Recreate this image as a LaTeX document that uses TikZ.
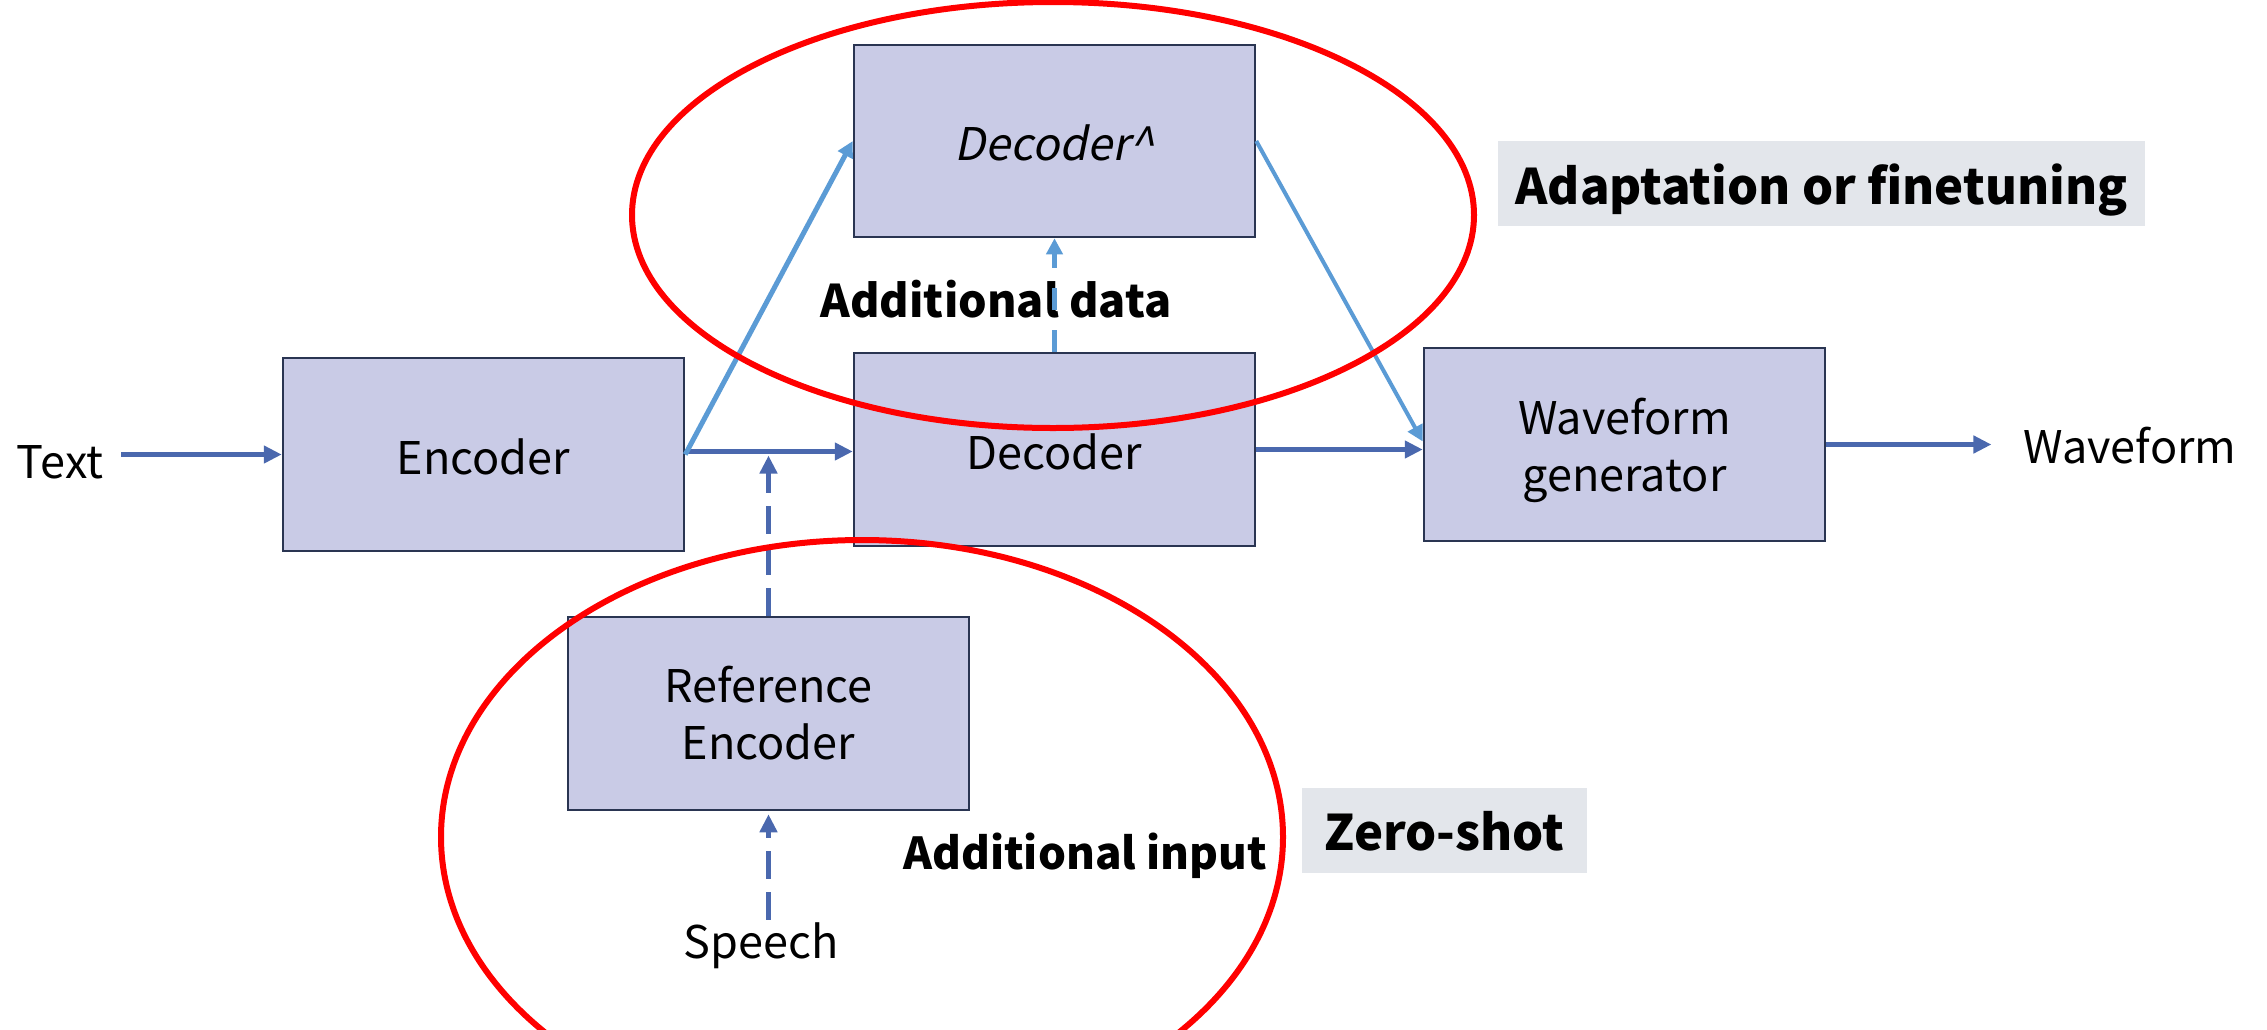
\documentclass[tikz,border=0pt]{standalone}
\usepackage{fontspec}
\setmainfont{Noto Sans CJK SC}
\newfontfamily\slfont[FakeSlant=0.2]{Noto Sans CJK SC}
\usetikzlibrary{arrows.meta,shapes.geometric}
\definecolor{boxfill}{HTML}{C9CBE6}
\definecolor{boxdraw}{HTML}{2A3552}
\definecolor{darkblue}{HTML}{4A68AE}
\definecolor{lightblue}{HTML}{5B9BD5}
\definecolor{tagfill}{HTML}{E3E6EB}
\begin{document}
\begin{tikzpicture}[x=1pt,y=-1pt,
  box/.style={draw=boxdraw, line width=2.5pt, fill=boxfill, minimum width=401pt,
    minimum height=193pt, inner sep=0pt, align=center,
    font=\fontsize{45}{57}\selectfont},
  onebox/.style={box, text height=39pt, text depth=0pt},
  lbl/.style={font=\fontsize{45}{54}\selectfont, inner sep=0pt},
  blbl/.style={font=\fontsize{45}{54}\selectfont\bfseries, inner sep=0pt},
  tag/.style={fill=tagfill, inner sep=0pt, font=\fontsize{49}{60}\selectfont\bfseries},
  darr/.style={draw=darkblue, line width=5pt, -{Triangle[length=18pt,width=17pt]}},
  larr/.style={draw=lightblue, line width=5pt, -{Triangle[length=16pt,width=16pt]}},
  dsh/.style={dash pattern=on 28pt off 13pt},
  ring/.style={draw=red, line width=6pt, ellipse, inner sep=0pt}
]
\useasboundingbox (0,0) rectangle (2267,1029);
\clip (0,0) rectangle (2267,1029);

% boxes
\node[onebox] (enc) at (483.5,454.5) {Encoder};
\node[onebox] (dec) at (1054.5,449.5) {Decoder};
\node[onebox, minimum height=192pt, text height=38pt] (dech) at (1054.5,141) {\slfont Decoder\textasciicircum};
\node[box, label={[font=\fontsize{45}{57}\selectfont, align=center, inner sep=0pt, yshift=-6pt]center:Waveform\\generator}] (wav) at (1624.5,444.5) {};
\node[box] (ref) at (768.5,713.5) {Reference\\Encoder};

% free labels
\node[lbl, anchor=base] (txt) at (60,478) {Text};
\node[lbl, anchor=base] (out) at (2130,463) {Waveform};
\node[lbl, anchor=base] (sp) at (761,958) {Speech};
\node[blbl, anchor=base] (adata) at (996,317) {Additional data};
\node[blbl, font=\fontsize{44}{54}\selectfont\bfseries, anchor=base] (ainput) at (1085,869) {Additional input};

% tags
\node[tag, minimum width=647pt, minimum height=85pt, text height=41pt, text depth=0pt] (adapt) at (1821.5,183.5) {Adaptation or finetuning};
\node[tag, minimum width=285pt, minimum height=85pt, text height=39pt, text depth=0pt] (zero) at (1444.5,830.5) {Zero-shot};

% connectors
\draw[darr] ([xshift=18pt]txt.east |- enc.west) -- (enc.west);
\draw[darr] ([yshift=3pt]enc.east) -- ([yshift=3pt]enc.east -| dec.west);
\draw[darr] (dec.east) -- (dec.east -| wav.west);
\draw[darr] (wav.east) -- ([xshift=-32pt]wav.east -| out.west);
\draw[darr, dsh] (ref.north) -- ([yshift=-1pt]ref.north |- enc.east);
\draw[darr, dsh] ([yshift=2pt]sp.north -| ref.south) -- ([yshift=-3pt]ref.south);
\draw[larr, dash pattern=on 22pt off 20pt] (dec.north) -- (dech.south);
\draw[larr] (enc.east) -- (dech.west);
\draw[larr, line width=4pt] (dech.east) -- ([yshift=3pt]wav.west);

% rings
\node[ring, minimum width=842pt, minimum height=426pt] (ring1) at (1053,215) {};
\node[ring, minimum width=842pt, minimum height=594pt] (ring2) at (862,837) {};
\end{tikzpicture}
\end{document}
